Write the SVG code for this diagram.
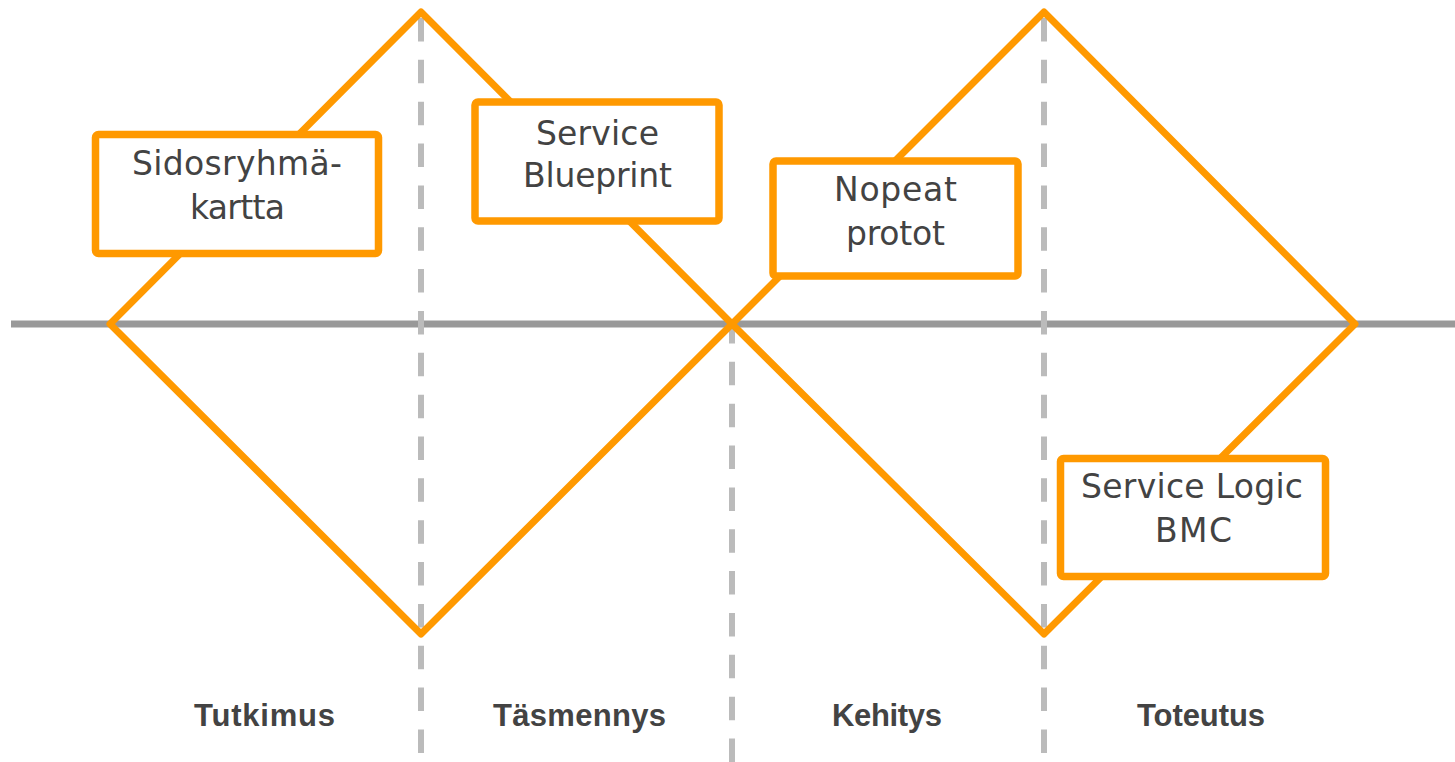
<svg xmlns="http://www.w3.org/2000/svg" width="1455" height="762" viewBox="0 0 1455 762">
<style>
.axis{stroke:#999999;stroke-width:7;fill:none}
.dash{stroke:#bbbbbb;stroke-width:6;fill:none;stroke-dasharray:23.5 18.35}
.dia{stroke:#ff9900;stroke-width:7;fill:none;stroke-linejoin:round;stroke-linecap:round}
.box{stroke:#ff9900;stroke-width:7.5;fill:#ffffff}
.lbl{font-family:"DejaVu Sans","Liberation Sans",Arial,sans-serif;font-size:33px;fill:#434343;text-anchor:middle}
.phase{font-family:"Liberation Sans",Arial,sans-serif;font-size:31px;font-weight:bold;fill:#434343;text-anchor:middle}
</style>
<rect width="1455" height="762" fill="#ffffff"/>
<g id="connectors">
<line class="axis" x1="11" y1="324" x2="1455" y2="324"/>
<line class="dash" x1="421" y1="18" x2="421" y2="762"/>
<line class="dash" x1="732" y1="320" x2="732" y2="762"/>
<line class="dash" x1="1044" y1="18" x2="1044" y2="762"/>
<polygon class="dia" points="110,324 421,12 732,324 421,634"/>
<polygon class="dia" points="732,324 1044,12 1355,324 1044,634"/>
</g>
<g id="node-sidosryhma">
<rect class="box" x="95.5" y="134.5" width="283" height="119" rx="3"/>
<text class="lbl" x="237" y="175" textLength="210" lengthAdjust="spacing">Sidosryhmä-</text>
<text class="lbl" x="237.5" y="219" textLength="95" lengthAdjust="spacing">kartta</text>
</g>
<g id="node-blueprint">
<rect class="box" x="475" y="102" width="244" height="119" rx="3"/>
<text class="lbl" x="597.5" y="145" textLength="123" lengthAdjust="spacing">Service</text>
<text class="lbl" x="597.5" y="187" textLength="149" lengthAdjust="spacing">Blueprint</text>
</g>
<g id="node-nopeat">
<rect class="box" x="773" y="161" width="245" height="115" rx="3"/>
<text class="lbl" x="895.5" y="201" textLength="123" lengthAdjust="spacing">Nopeat</text>
<text class="lbl" x="895.5" y="245" textLength="99" lengthAdjust="spacing">protot</text>
</g>
<g id="node-logic">
<rect class="box" x="1060.5" y="458.5" width="265" height="118" rx="3"/>
<text class="lbl" x="1192" y="498" textLength="222" lengthAdjust="spacing">Service Logic</text>
<text class="lbl" x="1193.5" y="542" textLength="77" lengthAdjust="spacing">BMC</text>
</g>
<g id="phases">
<text class="phase" x="264.5" y="726" textLength="141" lengthAdjust="spacing">Tutkimus</text>
<text class="phase" x="579.5" y="726" textLength="173" lengthAdjust="spacing">Täsmennys</text>
<text class="phase" x="887" y="726" textLength="110" lengthAdjust="spacing">Kehitys</text>
<text class="phase" x="1201" y="726" textLength="128" lengthAdjust="spacing">Toteutus</text>
</g>
</svg>
